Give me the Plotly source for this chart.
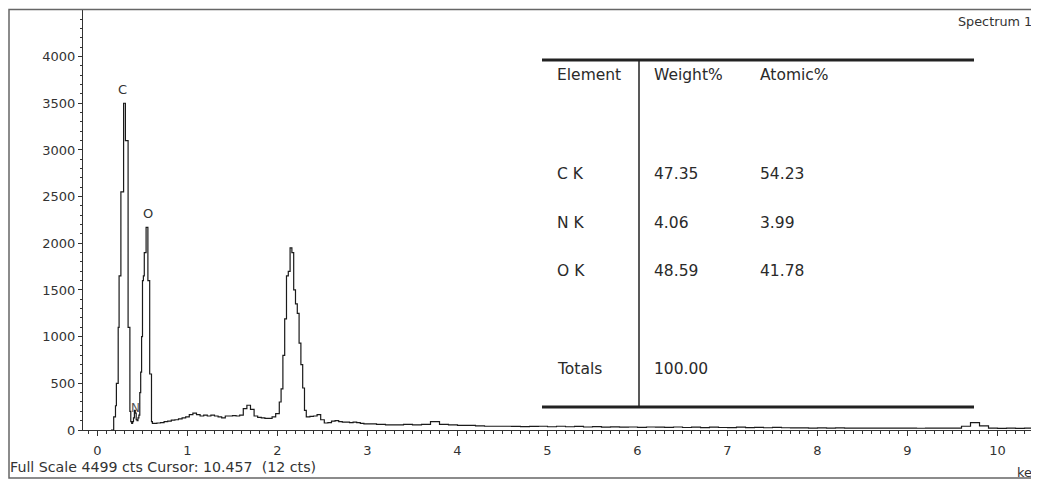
import plotly.graph_objects as go

# ---------------- data ----------------
energy_kev = [
    0.15, 0.16, 0.17, 0.18, 0.19, 0.20, 0.21, 0.22, 0.23, 0.24, 0.25, 0.26, 0.27, 0.28,
    0.29, 0.30, 0.31, 0.32, 0.33, 0.34, 0.35, 0.36, 0.37, 0.38, 0.39, 0.40, 0.41, 0.42,
    0.43, 0.44, 0.45, 0.46, 0.47, 0.48, 0.49, 0.50, 0.51, 0.52, 0.53, 0.54, 0.55, 0.56,
    0.57, 0.58, 0.59, 0.60, 0.61,
    0.62, 0.66, 0.70, 0.74, 0.78, 0.82, 0.86, 0.90, 0.94, 0.98, 1.02, 1.06, 1.10, 1.14,
    1.18, 1.22, 1.26, 1.30, 1.34, 1.38, 1.42, 1.46, 1.50, 1.54, 1.58, 1.62, 1.66, 1.70,
    1.74, 1.78, 1.82, 1.86, 1.90, 1.94, 1.98, 2.02, 2.04, 2.06, 2.08, 2.10, 2.12, 2.14,
    2.16, 2.18, 2.20, 2.22, 2.24, 2.26, 2.28, 2.30, 2.32, 2.36, 2.40, 2.44, 2.48, 2.52,
    2.56, 2.60, 2.64, 2.68, 2.72, 2.76, 2.80, 2.84, 2.88, 2.92, 2.96, 3.00,
    3.1, 3.2, 3.3, 3.4, 3.5, 3.6, 3.7, 3.8, 3.9, 4.0, 4.1, 4.2, 4.3, 4.4, 4.5, 4.6, 4.7,
    4.8, 4.9, 5.0, 5.1, 5.2, 5.3, 5.4, 5.5, 5.6, 5.7, 5.8, 5.9, 6.0, 6.1, 6.2, 6.3, 6.4,
    6.5, 6.6, 6.7, 6.8, 6.9, 7.0, 7.1, 7.2, 7.3, 7.4, 7.5, 7.6, 7.7, 7.8, 7.9, 8.0, 8.1,
    8.2, 8.3, 8.4, 8.5, 8.6, 8.7, 8.8, 8.9, 9.0, 9.1, 9.2, 9.3, 9.4, 9.5, 9.6, 9.7, 9.8,
    9.9, 10.0, 10.1, 10.2, 10.3, 10.4, 10.5,
]
counts = [
    0, 0, 0, 140, 140, 260, 500, 500, 1100, 1650, 1650, 2550, 2550, 2550,
    3500, 3500, 3100, 3100, 3100, 1100, 1100, 200, 90, 70, 90, 130, 210, 180,
    110, 100, 130, 160, 400, 620, 1000, 1600, 1650, 1900, 1900, 2170, 2170, 1600,
    1600, 600, 600, 90, 70,
    70, 75, 80, 90, 95, 105, 110, 120, 130, 140, 165, 180, 165, 150,
    160, 150, 160, 150, 140, 130, 150, 150, 155, 150, 160, 230, 265, 220,
    150, 135, 130, 125, 125, 140, 175, 300, 440, 800, 1190, 1650, 1700, 1950,
    1900, 1500, 1350, 1250, 930, 700, 450, 210, 140, 145, 150, 165, 110, 75,
    80, 95, 100, 90, 85, 85, 80, 85, 80, 70, 65, 65,
    60, 55, 55, 60, 55, 60, 90, 60, 55, 50, 50, 45, 40, 40, 40, 38, 36,
    38, 40, 35, 40, 35, 38, 32, 36, 30, 34, 30, 32, 28, 32, 30, 28, 32,
    27, 30, 26, 30, 27, 25, 30, 25, 28, 24, 28, 24, 22, 22, 21, 22, 21,
    22, 20, 21, 20, 20, 21, 20, 20, 20, 19, 20, 20, 20, 21, 40, 80, 45,
    20, 18, 20, 18, 20, 18, 18,
]

peak_labels = ["C", "N", "O"]
peak_energy = [0.283, 0.417, 0.556]
peak_counts = [3500, 236, 2170]

x_tick_vals = [0, 1, 2, 3, 4, 5, 6, 7, 8, 9, 10]
y_tick_vals = [0, 500, 1000, 1500, 2000, 2500, 3000, 3500, 4000]

table_header = ["Element", "Weight%", "Atomic%"]
table_elements = ["C K", "N K", "O K"]
table_weight = ["47.35", "4.06", "48.59"]
table_atomic = ["54.23", "3.99", "41.78"]
table_total_label = "Totals"
table_total_weight = "100.00"

spectrum_name = "Spectrum 1"
footer_text = "Full Scale 4499 cts Cursor: 10.457\u00a0 (12 cts)"
x_unit = "keV"

# ---------------- layout helpers ----------------
# The page body adds an 8 px offset; the figure is sized so that the final
# screenshot (1039 x 483) lines up with the reference pixel positions.
OFF = 8
W, H = 1039 - OFF, 483 - OFF
L, R, T, B = 83 - OFF, 0, 10 - OFF, (483 - OFF) - (430 - OFF)
PW, PH = W - L - R, H - T - B


def px(X):
    """reference screenshot x pixel -> paper x"""
    return (X - OFF - L) / PW


def py(Y):
    """reference screenshot y pixel -> paper y"""
    return (H - B - (Y - OFF)) / PH


FONT = "DejaVu Sans"
TXT = "#333333"

fig = go.Figure()
fig.add_trace(go.Scatter(
    x=energy_kev, y=counts, mode="lines",
    line=dict(color="#1a1a1a", width=1.2, shape="hv"),
    hoverinfo="skip", showlegend=False,
))

annotations = []
for lab, e, c in zip(peak_labels, peak_energy, peak_counts):
    if lab == "N":
        annotations.append(dict(x=e, y=c, xref="x", yref="y", text=lab, showarrow=False,
                                xanchor="center", yanchor="middle",
                                font=dict(family=FONT, size=12, color="#555555")))
    else:
        annotations.append(dict(x=e, y=c, xref="x", yref="y", text=lab, showarrow=False,
                                xanchor="center", yanchor="bottom", yshift=4,
                                font=dict(family=FONT, size=13, color=TXT)))

TF = dict(family=FONT, size=15.5, color="#2a2a2a")
col_x = [555, 652, 758]
for cx, h in zip(col_x, table_header):
    annotations.append(dict(x=px(cx), y=py(75), xref="paper", yref="paper", text=h,
                            showarrow=False, xanchor="left", yanchor="middle", font=TF))
row_y = [174, 223, 271]
for ry, el, w_, a_ in zip(row_y, table_elements, table_weight, table_atomic):
    for cx, t in zip(col_x, [el, w_, a_]):
        annotations.append(dict(x=px(cx), y=py(ry), xref="paper", yref="paper", text=t,
                                showarrow=False, xanchor="left", yanchor="middle", font=TF))
for cx, t in zip(col_x[:2], [table_total_label, table_total_weight]):
    annotations.append(dict(x=px(cx), y=py(369), xref="paper", yref="paper", text=t,
                            showarrow=False, xanchor="left", yanchor="middle", font=TF))

annotations.append(dict(x=px(1034), y=py(21), xref="paper", yref="paper", text=spectrum_name,
                        showarrow=False, xanchor="right", yanchor="middle",
                        font=dict(family=FONT, size=12.8, color=TXT)))
annotations.append(dict(x=px(8), y=py(467), xref="paper", yref="paper", text=footer_text,
                        showarrow=False, xanchor="left", yanchor="middle",
                        font=dict(family=FONT, size=14.2, color=TXT)))
annotations.append(dict(x=px(1015), y=py(472), xref="paper", yref="paper", text=x_unit,
                        showarrow=False, xanchor="left", yanchor="middle",
                        font=dict(family=FONT, size=13, color=TXT)))

shapes = [
    dict(type="rect", xref="paper", yref="paper", x0=px(9), x1=px(1037.5), y0=py(478), y1=py(9.5),
         line=dict(color="#666666", width=1.5), layer="above"),
    dict(type="line", xref="paper", yref="paper", x0=px(542), x1=px(974), y0=py(60), y1=py(60),
         line=dict(color="#222222", width=3)),
    dict(type="line", xref="paper", yref="paper", x0=px(542), x1=px(974), y0=py(407), y1=py(407),
         line=dict(color="#222222", width=3)),
    dict(type="line", xref="paper", yref="paper", x0=px(639), x1=px(639), y0=py(60), y1=py(407),
         line=dict(color="#222222", width=1.5)),
]

fig.update_layout(
    width=W, height=H,
    margin=dict(l=L, r=R, t=T, b=B, pad=0),
    paper_bgcolor="white", plot_bgcolor="white",
    showlegend=False, hovermode=False,
    annotations=annotations, shapes=shapes,
    font=dict(family=FONT, color=TXT),
)
fig.update_xaxes(
    range=[-0.161, 10.461], tickmode="array", tickvals=x_tick_vals,
    ticks="outside", ticklen=5, tickwidth=1, tickcolor="#333333",
    showline=True, linecolor="#333333", linewidth=1, showgrid=False, zeroline=False,
    tickfont=dict(family=FONT, size=13, color=TXT), ticklabelstandoff=3,
    minor=dict(dtick=0.1, tick0=0, ticks="outside", ticklen=3, tickcolor="#333333", showgrid=False),
)
fig.update_yaxes(
    range=[0, 4499], tickmode="array", tickvals=y_tick_vals,
    ticks="outside", ticklen=4, tickwidth=1, tickcolor="#333333",
    showline=True, linecolor="#333333", linewidth=1, showgrid=False, zeroline=False,
    tickfont=dict(family=FONT, size=13, color=TXT),
    minor=dict(dtick=100, tick0=0, ticks="outside", ticklen=2.5, tickcolor="#333333", showgrid=False),
)

fig.write_html("out.html")
